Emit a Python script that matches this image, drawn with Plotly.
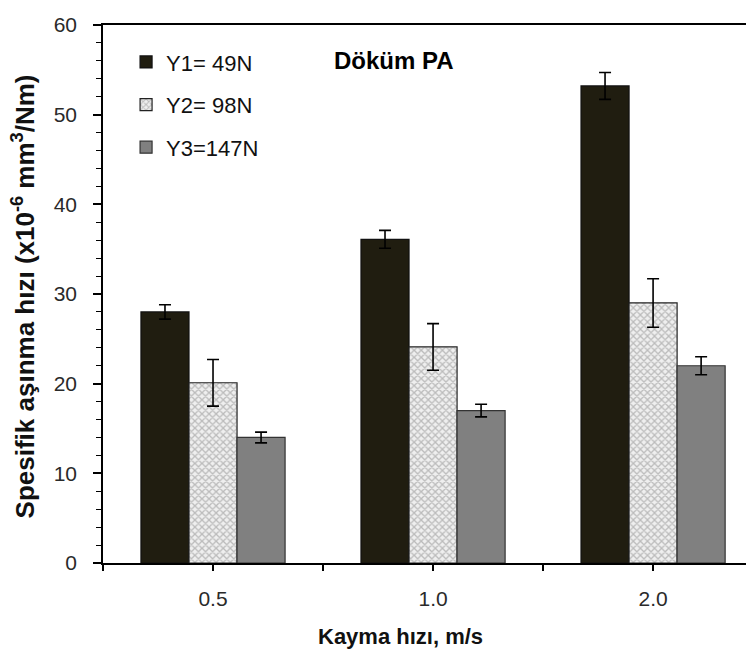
import plotly.graph_objects as go

# Data
categories = ["0.5", "1.0", "2.0"]
series_names = ["Y1= 49N", "Y2= 98N", "Y3=147N"]
y1_values = [28.0, 36.1, 53.2]
y1_errors = [0.8, 1.0, 1.5]
y2_values = [20.1, 24.1, 29.0]
y2_errors = [2.6, 2.6, 2.7]
y3_values = [14.0, 17.0, 22.0]
y3_errors = [0.6, 0.7, 1.0]

x_title = "<b>Kayma hızı, m/s</b>"
y_title = "<b>Spesifik aşınma hızı (x10<sup>-6</sup> mm<sup>3</sup>/Nm)</b>"
label_text = "<b>Döküm PA</b>"

x_pos = list(range(len(categories)))
boundaries = [i - 0.5 for i in range(len(categories) + 1)]

FONT = "Liberation Sans, Arial, sans-serif"
TFONT = "Liberation Sans Narrow, Liberation Sans, Arial, sans-serif"

fig = go.Figure()

err_style = dict(type="data", visible=True, color="#000000", thickness=1.6, width=6)

fig.add_trace(go.Bar(
    x=x_pos, y=y1_values, name=series_names[0], legendgroup="a",
    marker=dict(color="#201d10", line=dict(color="#111111", width=1.2)),
    error_y=dict(array=y1_errors, **err_style),
))
fig.add_trace(go.Bar(
    x=x_pos, y=y2_values, name=series_names[1], legendgroup="b",
    marker=dict(color="#ffffff", line=dict(color="#222222", width=1.2),
                pattern=dict(shape="x", size=5, solidity=0.45,
                             fgcolor="#888888", bgcolor="#efefef", fillmode="overlay")),
    error_y=dict(array=y2_errors, **err_style),
))
fig.add_trace(go.Bar(
    x=x_pos, y=y3_values, name=series_names[2], legendgroup="c",
    marker=dict(color="#808080", line=dict(color="#333333", width=1.2)),
    error_y=dict(array=y3_errors, **err_style),
))

fig.update_layout(
    width=754, height=651,
    margin=dict(l=95, r=0, t=17, b=96),
    paper_bgcolor="white", plot_bgcolor="white",
    barmode="group", bargap=0.345, bargroupgap=0,
    font=dict(family=FONT, size=21, color="#222222"),
    showlegend=True,
    legend=dict(x=0.035, y=0.97, xanchor="left", yanchor="top",
                font=dict(family=FONT, size=22, color="#111111"),
                tracegroupgap=11, bgcolor="rgba(0,0,0,0)", itemwidth=30),
    xaxis=dict(
        range=[-0.5, 2.495], tickmode="array", tickvals=x_pos, ticktext=categories,
        ticks="outside", ticklen=6, tickwidth=1.5, tickcolor="#000",
        minor=dict(tickvals=boundaries, ticks="outside", ticklen=6, tickwidth=1.5, tickcolor="#000",
                   showgrid=False),
        ticklabelstandoff=10,
        showline=True, linecolor="#000", linewidth=1.6, mirror=True,
        showgrid=False, zeroline=False,
        tickfont=dict(family=FONT, size=21, color="#2a2a2a"),
    ),
    yaxis=dict(
        range=[0, 60], dtick=10, ticks="outside", ticklen=8, tickwidth=1.5, tickcolor="#000",
        ticklabelstandoff=12,
        minor=dict(dtick=2, ticks="outside", ticklen=5, tickwidth=1.3, tickcolor="#000"),
        showline=True, linecolor="#000", linewidth=1.6,
        showgrid=False, zeroline=False,
        tickfont=dict(family=FONT, size=21, color="#2a2a2a"),
    ),
    annotations=[
        dict(x=0.442, y=0.934, xref="paper", yref="paper", text=label_text,
             xanchor="center", yanchor="middle", showarrow=False,
             font=dict(family=FONT, size=24, color="#000000")),
        dict(x=0.451, y=-0.1375, xref="paper", yref="paper", text=x_title,
             xanchor="center", yanchor="middle", showarrow=False,
             font=dict(family=TFONT, size=22, color="#111111")),
        dict(x=-0.121, y=0.496, xref="paper", yref="paper", text=y_title,
             textangle=-90, xanchor="center", yanchor="middle", showarrow=False,
             font=dict(family=TFONT, size=26, color="#111111")),
    ],
)

fig.write_html("out.html")
